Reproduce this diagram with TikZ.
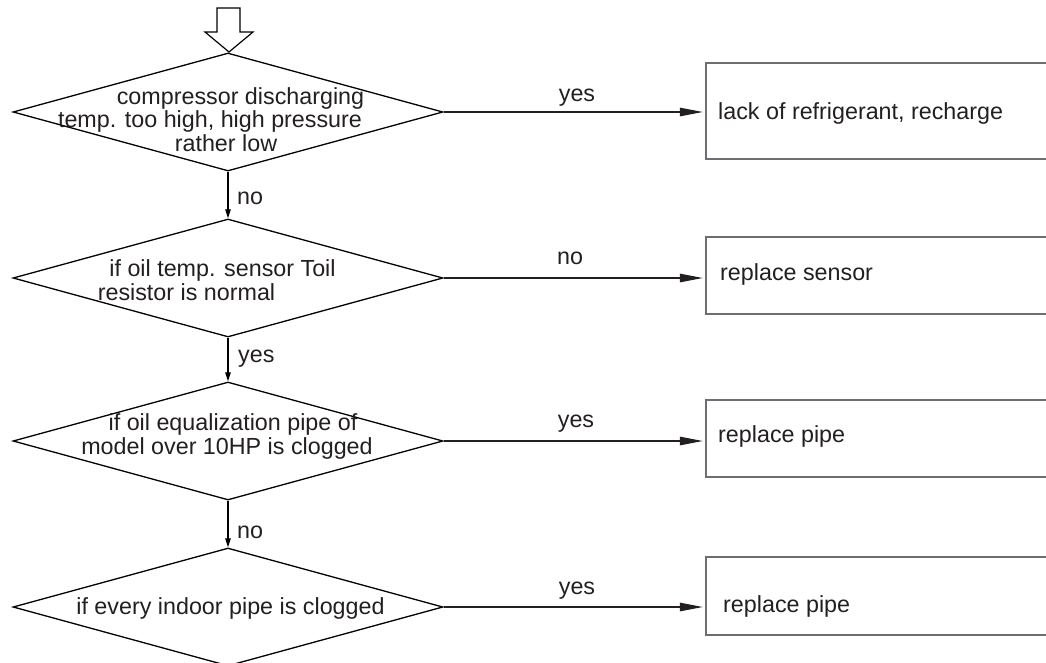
\documentclass[tikz,border=0pt]{standalone}
\usepackage{fontspec}
\setmainfont{Liberation Sans}
\usetikzlibrary{shapes.geometric,arrows.meta}
\definecolor{ink}{HTML}{231F20}
\definecolor{boxgray}{HTML}{6D6E71}
\begin{document}
\begin{tikzpicture}[x=1pt,y=-1pt,
  every node/.style={font=\fontsize{23.3}{24}\selectfont, text=ink},
  decision/.style={draw=black, line width=1.3pt, shape=diamond, minimum width=430pt, minimum height=118pt, inner sep=0pt},
  resultbox/.style={draw=boxgray, line width=1.5pt, rectangle, minimum width=354pt, inner sep=0pt},
  txt/.style={anchor=base, inner sep=0pt},
  ltxt/.style={anchor=base west, inner sep=0pt},
  harrow/.style={draw=ink, line width=1.2pt, -{Triangle[length=23pt,width=8.5pt]}, shorten >=2.5pt},
  varrow/.style={draw=black, line width=1.2pt, -{Triangle[length=9pt,width=5.5pt]}},
]
\useasboundingbox (0,0) rectangle (1046,662);
\clip (0,0) rectangle (1046,662);

% entry arrow
\draw[line width=1.2pt, fill=white] (217,8) -- (240,8) -- (240,32) -- (253,32) -- (229,52) -- (205,32) -- (217,32) -- cycle;

% decisions
\node[decision] (d1) at (228,112) {};
\node[decision] (d2) at (228,278) {};
\node[decision] (d3) at (228,441) {};
\node[decision] (d4) at (228,607) {};

\node[txt] (d1a) at (240.5,104) {compressor discharging};
\node[txt] (d1b) at (210,127) {temp. too high, high pressure};
\node[txt] (d1c) at (226,151) {rather low};
\node[txt] (d2a) at (222.5,276) {if oil temp. sensor Toil};
\node[txt] (d2b) at (186.5,300) {resistor is normal};
\node[txt] (d3a) at (233,430) {if oil equalization pipe of};
\node[txt] (d3b) at (227,454) {model over 10HP is clogged};
\node[txt] (d4a) at (230.5,614) {if every indoor pipe is clogged};

% result boxes
\node[resultbox, minimum height=96pt] (b1) at (883,111) {};
\node[resultbox, minimum height=77pt] (b2) at (883,275.5) {};
\node[resultbox, minimum height=77pt] (b3) at (883,438.5) {};
\node[resultbox, minimum height=78pt] (b4) at (883,596) {};

\node[ltxt] (t1) at (718,119) {lack of refrigerant, recharge};
\node[ltxt] (t2) at (720,280) {replace sensor};
\node[ltxt] (t3) at (718,442) {replace pipe};
\node[ltxt] (t4) at (723,612) {replace pipe};

% vertical connectors
\draw[varrow] (d1.south) -- (d2.north);
\draw[varrow] (d2.south) -- (d3.north);
\draw[varrow] (d3.south) -- (d4.north);
\node[ltxt] (v1) at (237,204) {no};
\node[ltxt] (v2) at (238,362) {yes};
\node[ltxt] (v3) at (237,538) {no};

% horizontal connectors
\draw[harrow] (d1.east) -- (d1.east -| b1.west);
\draw[harrow] (d2.east) -- (d2.east -| b2.west);
\draw[harrow] (d3.east) -- (d3.east -| b3.west);
\draw[harrow] (d4.east) -- (d4.east -| b4.west);
\node[txt] (h1) at (577,101) {yes};
\node[txt] (h2) at (570,264) {no};
\node[txt] (h3) at (576,427) {yes};
\node[txt] (h4) at (577,594) {yes};
\end{tikzpicture}
\end{document}
